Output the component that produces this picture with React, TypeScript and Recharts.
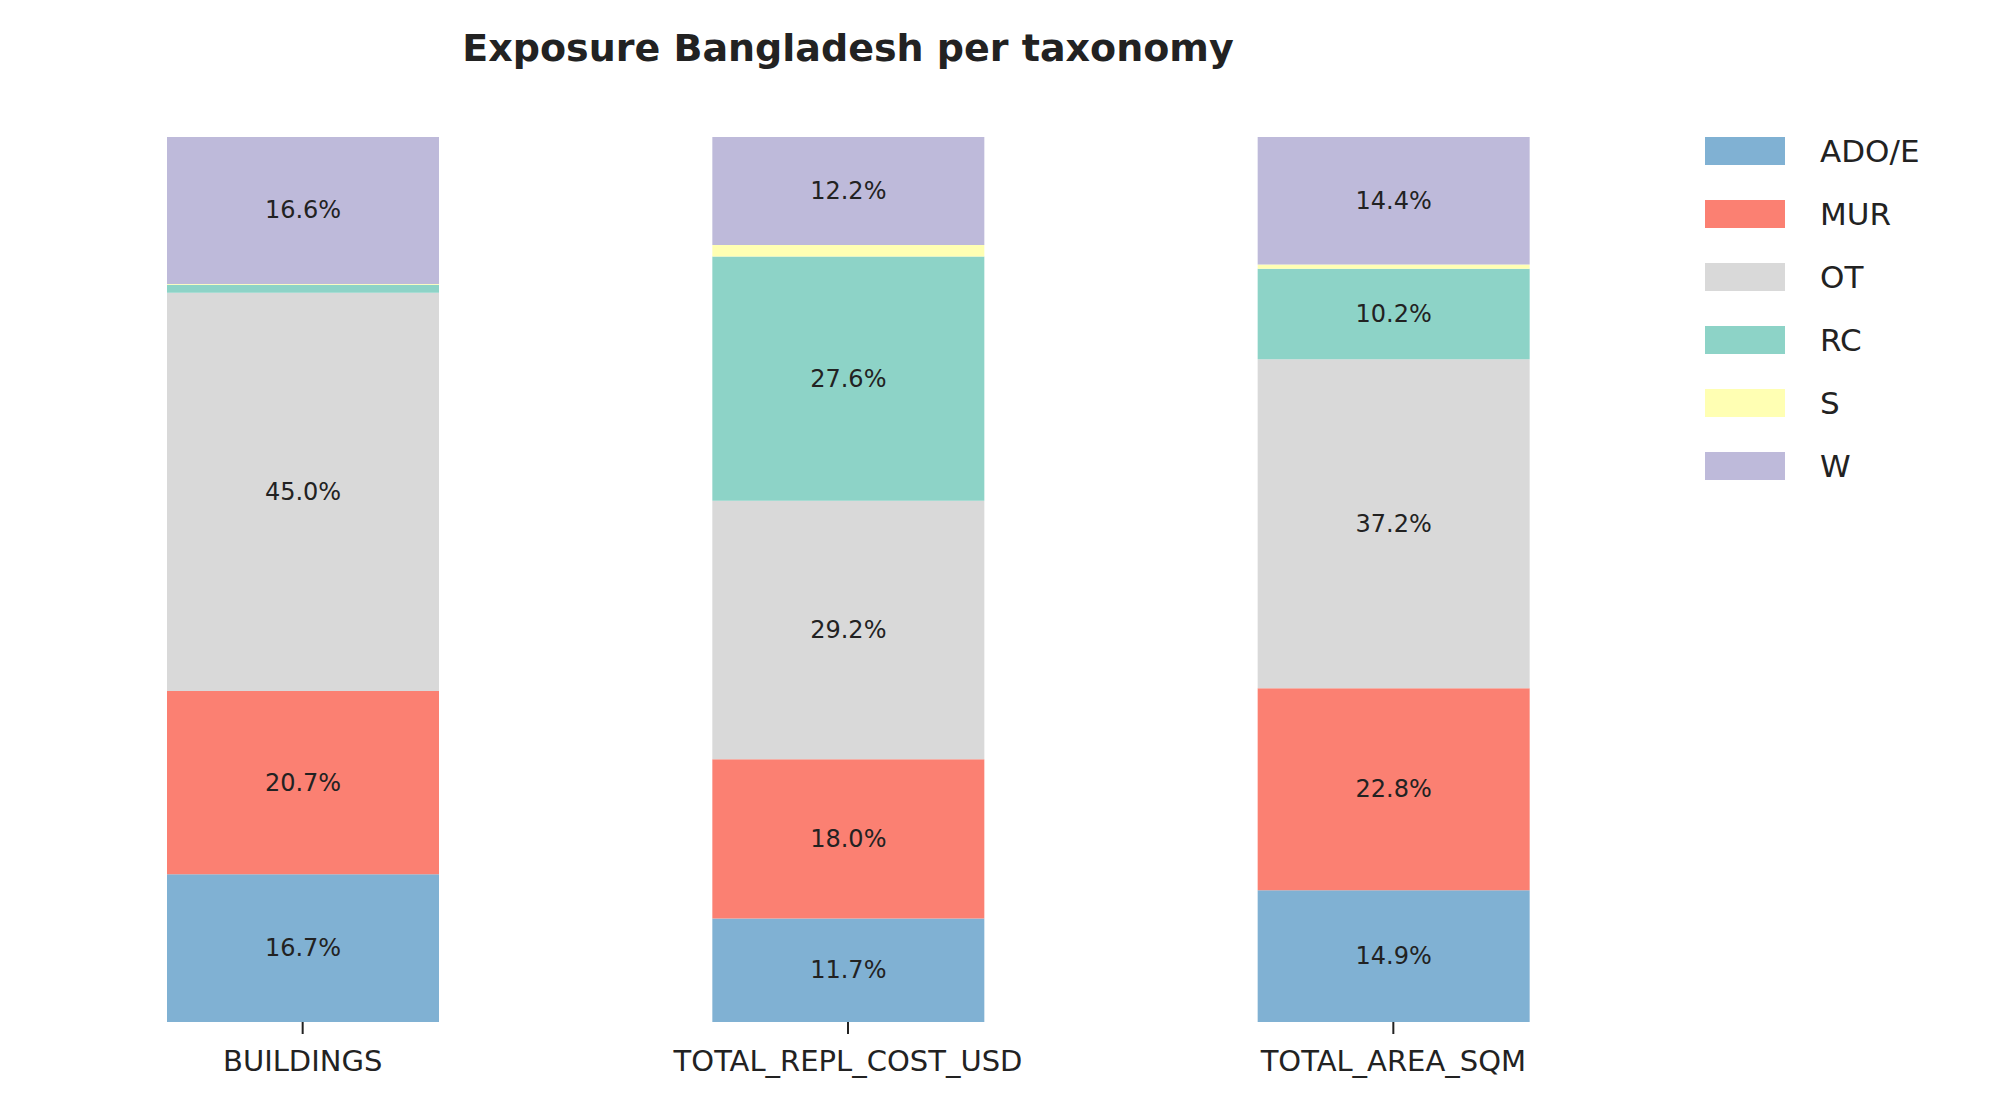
import { Bar, BarChart, LabelList, XAxis, YAxis } from "recharts";

const categories = ["BUILDINGS", "TOTAL_REPL_COST_USD", "TOTAL_AREA_SQM"];
const taxonomies = ["ADO/E", "MUR", "OT", "RC", "S", "W"];
const adoValues = [16.7, 11.7, 14.9];
const murValues = [20.7, 18.0, 22.8];
const otValues = [45.0, 29.2, 37.2];
const rcValues = [0.9, 27.6, 10.2];
const sValues = [0.1, 1.3, 0.5];
const wValues = [16.6, 12.2, 14.4];
const colors = ["#80b1d3", "#fb8072", "#d9d9d9", "#8dd3c7", "#ffffb3", "#bebada"];

const seriesValues = [adoValues, murValues, otValues, rcValues, sValues, wValues];
const data = categories.map((name, i) => {
  const row: Record<string, string | number> = { name };
  taxonomies.forEach((t, j) => (row[t] = seriesValues[j][i]));
  return row;
});

const font = "'DejaVu Sans', sans-serif";

function PctLabel(props: any) {
  const { x, y, width, height, value } = props;
  if (value < 5) return null;
  return (
    <text
      x={x + width / 2}
      y={y + height / 2}
      textAnchor="middle"
      dominantBaseline="central"
      fontSize={24}
      fontFamily={font}
      fill="#222"
    >
      {value.toFixed(1)}%
    </text>
  );
}

export default function App() {
  return (
    <div style={{ position: "absolute", left: 0, top: 0, width: 1992, height: 1118, background: "#fff" }}>
      <div
        style={{
          position: "absolute",
          left: 0,
          width: 1696,
          top: 26,
          textAlign: "center",
          fontFamily: font,
          fontWeight: "bold",
          fontSize: 38,
          color: "#222",
        }}
      >
        Exposure Bangladesh per taxonomy
      </div>
      <BarChart
        width={1992}
        height={1118}
        data={data}
        margin={{ top: 137, right: 326, bottom: 0, left: 30 }}
        barCategoryGap={0}
      >
        <YAxis hide domain={[0, 100]} />
        <XAxis
          dataKey="name"
          height={96}
          axisLine={false}
          tickSize={12}
          tickMargin={16}
          tickLine={{ stroke: "#222", strokeWidth: 2 }}
          tick={{ fontSize: 29, fontFamily: font, fill: "#222" }}
        />
        {taxonomies.map((t, j) => (
          <Bar key={t} dataKey={t} stackId="a" fill={colors[j]} barSize={272} isAnimationActive={false}>
            <LabelList dataKey={t} content={PctLabel} />
          </Bar>
        ))}
      </BarChart>
      {taxonomies.map((t, j) => (
        <div
          key={t}
          style={{ position: "absolute", left: 1705, top: 149 + j * 63 - 16, display: "flex", alignItems: "center" }}
        >
          <div style={{ width: 80, height: 28, background: colors[j] }} />
          <span style={{ marginLeft: 35, fontFamily: font, fontSize: 31, color: "#222" }}>{t}</span>
        </div>
      ))}
    </div>
  );
}
